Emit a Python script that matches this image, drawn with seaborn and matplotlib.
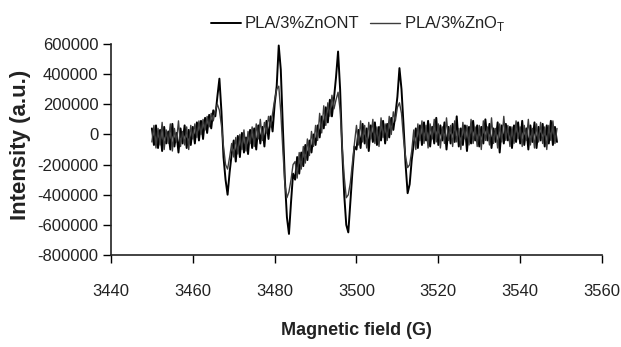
import numpy as np
import pandas as pd
import matplotlib
matplotlib.use('Agg')
import matplotlib.pyplot as plt
import seaborn as sns

# ------------------------------------------------------------
# EPR spectra (intensity in thousands a.u.)
# field sampled every 0.5 G from 3450 to 3549 G
# ------------------------------------------------------------
field = np.arange(3450.0, 3549.5, 0.5)

# PLA/3%ZnONT
znont_k = [
    40, -70, 60, -90, 30, -110, 50, -60, 20, -100, 70, -80, 10, -120, 40, -60, 60, -90, 30, -70,
    50, -60, 80, -40, 90, -30, 110, 10, 130, 40, 160, 120, 250, 370, 150, -150, -300, -400, -250, -130,
    -40, -180, -10, -150, 10, -120, -20, -130, 30, -90, 40, -100, 60, -60, 50, -80, 90, -30, 120, 20,
    200, 320, 590, 430, 50, -300, -550, -660, -450, -260, -300, -150, -260, -120, -210, -70, -170, -40, -120, 0,
    -70, 60, -20, 120, 40, 180, 80, 230, 120, 240, 380, 550, 300, -100, -400, -600, -650, -450, -250, -80,
    -100, 30, -90, 70, -60, 40, -110, 60, -50, 80, -70, 50, -40, 90, -60, 70, -20, 110, 30, 130,
    250, 440, 300, 60, -200, -390, -330, -170, -60, 40, -90, 60, -70, 80, -40, 90, -80, 50, -60, 110,
    -70, 60, -40, 80, -100, 50, -60, 70, -50, 120, -80, 40, -70, 60, -110, 50, -60, 90, -40, 60,
    -80, 50, -60, 100, -40, 70, -90, 40, -50, 80, -120, 60, -60, 70, -40, 50, -90, 60, -50, 80,
    -60, 90, -70, 40, -100, 60, -50, 80, -90, 50, -40, 70, -80, 60, -60, 90, -70, 50, -50,
]

# PLA/3%ZnO_T
znot_k = [
    -50, 60, -90, 40, -70, 80, -100, 30, -60, 70, -110, 40, -50, 90, -80, 20, -70, 50, -100, 60,
    -30, 70, -20, 90, 0, 100, 30, 120, 50, 140, 90, 160, 200, 160, 60, -80, -200, -230, -150, -60,
    -150, -20, -130, 0, -100, 30, -110, 20, -60, 50, -80, 70, -30, 100, -40, 80, 10, 120, 50, 140,
    230, 300, 320, 150, -100, -330, -420, -380, -300, -200, -180, -290, -120, -230, -80, -190, -30, -140, 20, -80,
    60, -40, 140, 10, 190, 60, 210, 120, 260, 170, 230, 280, 160, -80, -280, -420, -400, -320, -190, -60,
    60, -70, 90, -50, 60, -90, 80, -30, 100, -60, 50, -80, 110, -20, 70, -40, 120, 0, 150, 90,
    180, 210, 140, -30, -150, -220, -200, -110, 30, -100, 70, -40, 90, -60, 60, -90, 70, -30, 100, -50,
    70, -90, 50, -60, 110, -40, 60, -80, 90, -50, 40, -100, 80, -30, 60, -70, 100, -60, 50, -80,
    60, -100, 90, -40, 50, -70, 110, -60, 40, -90, 70, -50, 120, -40, 60, -80, 50, -60, 90, -30,
    50, -80, 60, -40, 100, -70, 40, -90, 70, -50, 80, -60, 50, -100, 60, -40, 90, -60, 40,
]

series_names = ['PLA/3%ZnONT', 'PLA/3%ZnO$_\\mathregular{T}$']
xticks = [3440, 3460, 3480, 3500, 3520, 3540, 3560]
yticks = [-800000, -600000, -400000, -200000, 0, 200000, 400000, 600000]

assert len(znont_k) == len(field) and len(znot_k) == len(field)

df = pd.DataFrame({
    'field': field,
    'znont': np.array(znont_k) * 1000,
    'znot': np.array(znot_k) * 1000,
})

# ------------------------------------------------------------
# Style
# ------------------------------------------------------------
sns.set_style('ticks')
plt.rcParams['font.family'] = ['Liberation Sans', 'DejaVu Sans']
plt.rcParams['mathtext.fontset'] = 'custom'
plt.rcParams['mathtext.rm'] = 'Liberation Sans'

fig = plt.figure(figsize=(6.21, 3.47), dpi=100)
ax = fig.add_axes([0.1787, 0.2651, 0.7907, 0.6081])

sns.lineplot(data=df, x='field', y='znont', ax=ax, color='black', lw=1.4,
             label=series_names[0], estimator=None)
sns.lineplot(data=df, x='field', y='znot', ax=ax, color='#3c3c3c', lw=1.0,
             label=series_names[1], estimator=None)

ax.set_xlim(3440, 3560)
ax.set_ylim(-800000, 600000)
ax.set_xticks(xticks)
ax.set_xticklabels([str(t) for t in xticks])
ax.set_yticks(yticks)
ax.set_yticklabels([str(t) for t in yticks])
ax.tick_params(axis='both', labelsize=12, color='black', labelcolor='#222222',
               length=6, width=1.0, direction='out')
ax.tick_params(axis='x', pad=15)
ax.tick_params(axis='y', pad=3)

sns.despine(ax=ax)
for s in ['left', 'bottom']:
    ax.spines[s].set_color('#222222')
    ax.spines[s].set_linewidth(1.2)

ax.set_xlabel('Magnetic field (G)', fontsize=13, fontweight='bold', color='#222222')
ax.xaxis.set_label_coords(0.499, -0.36)
ax.xaxis.label.set_verticalalignment('center')

ax.set_ylabel('Intensity (a.u.)', fontsize=16, fontweight='bold', color='#222222')
ax.yaxis.set_label_coords(-0.185, 0.52)
ax.yaxis.label.set_verticalalignment('center')

leg = ax.legend(loc='center', bbox_to_anchor=(0.503, 1.095), ncol=2, frameon=False,
                fontsize=12, handlelength=1.8, handletextpad=0.25, columnspacing=0.6,
                borderaxespad=0)
for t in leg.get_texts():
    t.set_color('#222222')

fig.savefig('out.png', dpi=100)
